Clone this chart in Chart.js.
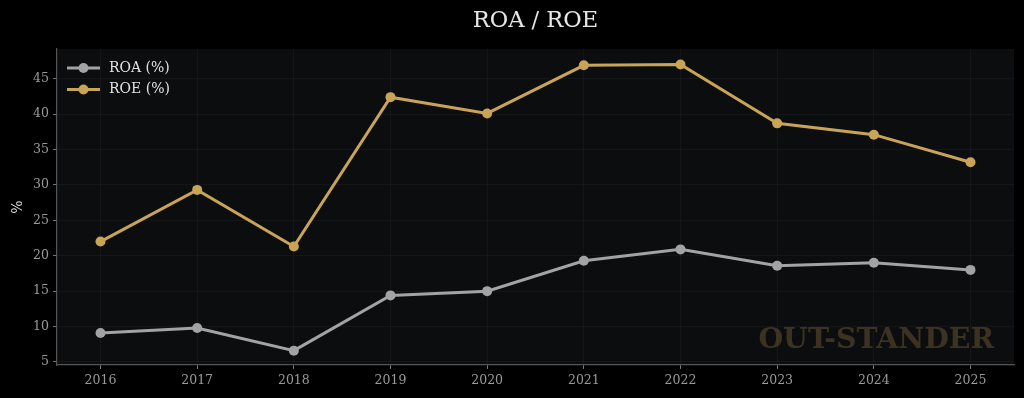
<!DOCTYPE html>
<html>
<head>
<meta charset="utf-8">
<script src="https://cdn.jsdelivr.net/npm/chart.js@4.4.1/dist/chart.umd.min.js"></script>
<style>
  html, body { margin: 0; padding: 0; background: #000; }
  #wrap { width: 1024px; height: 398px; }
</style>
</head>
<body>
<div id="wrap"><canvas id="c" width="1024" height="398"></canvas></div>
<script>
const years = [2016, 2017, 2018, 2019, 2020, 2021, 2022, 2023, 2024, 2025];
const roa = [9.1, 9.8, 6.6, 14.4, 15.0, 19.3, 20.9, 18.6, 19.0, 18.0];
const roe = [22.0, 29.3, 21.3, 42.4, 40.1, 46.9, 47.0, 38.7, 37.1, 33.2];
const yTicks = [5, 10, 15, 20, 25, 30, 35, 40, 45];
const titleText = 'ROA / ROE';
const seriesNames = ['ROA (%)', 'ROE (%)'];
const watermark = 'OUT-STANDER';

const SERIF = "'DejaVu Serif', 'Liberation Serif', serif";
const colROA = '#a3a3a5';
const colROE = '#c9a457';

const bgPlugin = {
  id: 'bg',
  beforeDraw(chart) {
    const { ctx, chartArea: a } = chart;
    ctx.save();
    ctx.fillStyle = '#000';
    ctx.fillRect(0, 0, chart.width, chart.height);
    ctx.fillStyle = '#0c0d0f';
    ctx.fillRect(a.left, a.top, a.right - a.left, a.bottom - a.top);
    ctx.restore();
  },
  beforeDatasetsDraw(chart) {
    const { ctx, chartArea: a } = chart;
    ctx.save();
    ctx.font = "bold 28.4px " + SERIF;
    ctx.fillStyle = 'rgba(201,164,87,0.25)';
    ctx.textAlign = 'right';
    ctx.textBaseline = 'middle';
    ctx.fillText(watermark, a.right - 20, a.bottom - 24);
    ctx.restore();
  },
  afterDraw(chart) {
    const { ctx } = chart;
    ctx.save();
    chart.data.datasets.forEach((ds, i) => {
      const y = 68 + i * 21.5;
      ctx.strokeStyle = ds.borderColor;
      ctx.lineWidth = 3;
      ctx.beginPath();
      ctx.moveTo(67, y);
      ctx.lineTo(100, y);
      ctx.stroke();
      ctx.fillStyle = ds.borderColor;
      ctx.beginPath();
      ctx.arc(83.5, y, 5, 0, Math.PI * 2);
      ctx.fill();
      ctx.fillStyle = '#e2e2e2';
      ctx.font = "14px " + SERIF;
      ctx.textAlign = 'left';
      ctx.textBaseline = 'middle';
      ctx.fillText(ds.label, 109, y);
    });
    ctx.restore();
  }
};

new Chart(document.getElementById('c'), {
  type: 'line',
  data: {
    datasets: [
      { label: seriesNames[0], data: years.map((x, i) => ({ x, y: roa[i] })), borderColor: colROA, backgroundColor: colROA },
      { label: seriesNames[1], data: years.map((x, i) => ({ x, y: roe[i] })), borderColor: colROE, backgroundColor: colROE }
    ]
  },
  options: {
    responsive: false,
    animation: false,
    devicePixelRatio: 1,
    layout: { padding: { left: 0, right: 10, top: 0, bottom: 0 } },
    elements: {
      line: { borderWidth: 3, tension: 0 },
      point: { radius: 5, borderWidth: 0, hoverRadius: 5 }
    },
    plugins: {
      legend: { display: false },
      tooltip: { enabled: false },
      title: {
        display: true,
        fullSize: false,
        text: titleText,
        color: '#e6e6e6',
        font: { family: SERIF, size: 22.5, weight: 'normal' },
        padding: { top: 8, bottom: 14 }
      }
    },
    scales: {
      x: {
        type: 'linear',
        min: 2015.55,
        max: 2025.45,
        afterBuildTicks(scale) { scale.ticks = years.map(v => ({ value: v })); },
        afterFit(scale) { scale.height = 33; },
        ticks: {
          color: '#9a9a9a',
          font: { family: SERIF, size: 12.5 },
          padding: 4,
          maxRotation: 0,
          callback: v => String(v)
        },
        grid: {
          color: 'rgba(255,255,255,0.035)',
          borderDash: [2, 3],
          tickColor: '#777',
          tickLength: 4,
          tickBorderDash: []
        },
        border: { display: true, color: '#555', width: 1.2 }
      },
      y: {
        min: 4.57,
        max: 49.2,
        afterBuildTicks(scale) { scale.ticks = yTicks.map(v => ({ value: v })); },
        afterFit(scale) { scale.width = 57; },
        title: {
          display: true,
          text: '%',
          color: '#dcdcdc',
          font: { family: SERIF, size: 14 },
          padding: { top: 10, bottom: 0 }
        },
        ticks: {
          color: '#9a9a9a',
          font: { family: SERIF, size: 12.5 },
          padding: 4
        },
        grid: {
          color: 'rgba(255,255,255,0.035)',
          borderDash: [2, 3],
          tickColor: '#777',
          tickLength: 4,
          tickBorderDash: []
        },
        border: { display: true, color: '#555', width: 1.2 }
      }
    }
  },
  plugins: [bgPlugin]
});
</script>
</body>
</html>
